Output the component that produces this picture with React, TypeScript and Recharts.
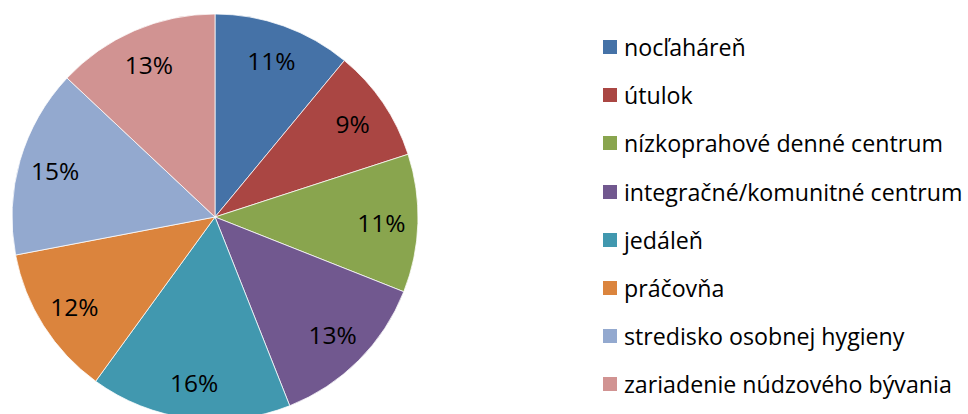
import * as React from 'react';
import { PieChart, Pie, Cell, Legend } from 'recharts';

const categories = [
  'nocľaháreň',
  'útulok',
  'nízkoprahové denné centrum',
  'integračné/komunitné centrum',
  'jedáleň',
  'práčovňa',
  'stredisko osobnej hygieny',
  'zariadenie núdzového bývania',
];
const shares = [11, 9, 11, 13, 16, 12, 15, 13];
const colors = ['#4572A7', '#AA4643', '#89A54E', '#71588F', '#4198AF', '#DB843D', '#93A9CF', '#D19392'];

const data = categories.map((name, i) => ({ name, value: shares[i] }));

const FONT = "'Open Sans', sans-serif";
const RAD = Math.PI / 180;

const renderLabel = (props: any) => {
  const { cx, cy, midAngle, outerRadius, value } = props;
  const r = outerRadius * 0.82;
  const x = cx + r * Math.cos(-midAngle * RAD);
  const y = cy + r * Math.sin(-midAngle * RAD);
  return (
    <text x={x} y={y} fill="#000" fontSize={24.5} fontFamily={FONT} textAnchor="middle" dominantBaseline="central">
      {value}%
    </text>
  );
};

const renderLegend = () => (
  <div style={{ fontFamily: FONT }}>
    {categories.map((c, i) => (
      <div key={c} style={{ display: 'flex', alignItems: 'center', height: 48.2 }}>
        <span style={{ width: 14, height: 14, background: colors[i], marginRight: 7, flex: 'none' }} />
        <span style={{ fontSize: 23.2, color: '#000', whiteSpace: 'nowrap' }}>{c}</span>
      </div>
    ))}
  </div>
);

export default function App() {
  return (
    <div style={{ position: 'absolute', left: 0, top: 0, width: 968, height: 414, background: '#fff' }}>
      <PieChart width={968} height={414}>
        <Pie
          data={data}
          dataKey="value"
          nameKey="name"
          cx={210}
          cy={212}
          outerRadius={203}
          startAngle={90}
          endAngle={-270}
          stroke="#ffffff"
          strokeWidth={0.75}
          label={renderLabel}
          labelLine={false}
          isAnimationActive={false}
        >
          {data.map((d, i) => (
            <Cell key={d.name} fill={colors[i]} />
          ))}
        </Pie>
        <Legend
          layout="vertical"
          content={renderLegend}
          wrapperStyle={{ position: 'absolute', left: 603, top: 23, width: 365 }}
        />
      </PieChart>
    </div>
  );
}
